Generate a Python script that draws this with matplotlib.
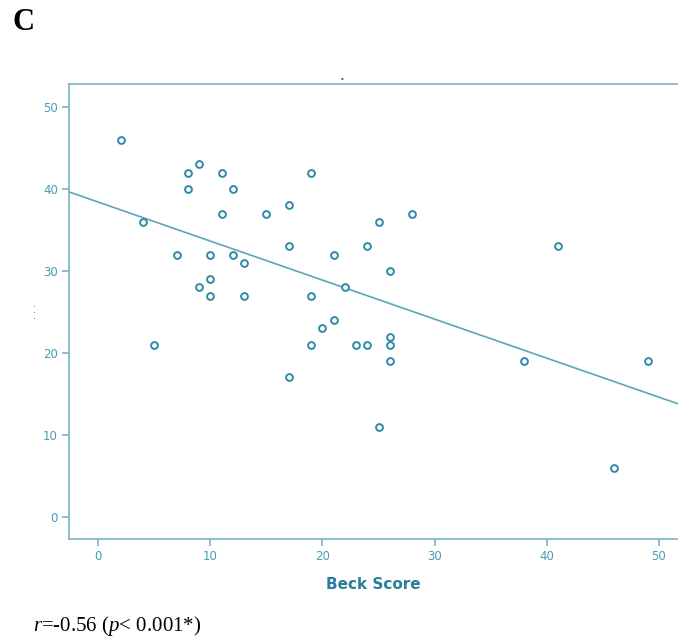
import matplotlib
matplotlib.use("Agg")
import matplotlib.pyplot as plt
import numpy as np

# Data
beck_score = [2, 4, 5, 7, 8, 8, 9, 9, 10, 10, 10, 11, 11, 12, 12, 13, 13, 15,
              17, 17, 17, 19, 19, 19, 20, 21, 21, 22, 23, 24, 24, 25, 25,
              26, 26, 26, 26, 28, 38, 41, 46, 49]
outcome = [46, 36, 21, 32, 42, 40, 43, 28, 32, 29, 27, 42, 37, 40, 32, 31, 27, 37,
           38, 33, 17, 42, 27, 21, 23, 32, 24, 28, 21, 33, 21, 36, 11,
           30, 22, 21, 19, 37, 19, 33, 6, 19]
line_intercept = 38.4
line_slope = -0.476
x_ticks = [0, 10, 20, 30, 40, 50]
y_ticks = [0, 10, 20, 30, 40, 50]

axis_col = "#7ab3c4"
label_col = "#4a9bb5"
mark_col = "#2f8aa8"
line_col = "#5da5b8"

plt.rcParams['mathtext.fontset'] = 'custom'
plt.rcParams['mathtext.rm'] = 'Liberation Serif'
plt.rcParams['mathtext.it'] = 'Liberation Serif:italic'

fig = plt.figure(figsize=(6.78, 6.39), dpi=100)
ax = fig.add_axes([69/678, 1-539/639, 1-69/678, (539-84)/639])

xmin, xmax = -2.6, 51.7
ax.set_xlim(xmin, xmax)
ax.set_ylim(-2.7, 52.8)

xs = np.array([xmin, xmax])
ax.plot(xs, line_intercept + line_slope * xs, color=line_col, lw=1.2, zorder=2)
ax.scatter(beck_score, outcome, s=24, facecolors="white", edgecolors=mark_col,
           linewidths=1.4, zorder=3)

for side in ["left", "top", "bottom"]:
    ax.spines[side].set_color(axis_col)
    ax.spines[side].set_linewidth(1.2)
ax.spines["right"].set_visible(False)

ax.set_xticks(x_ticks)
ax.set_yticks(y_ticks)
ax.tick_params(axis="both", colors=axis_col, length=5, width=1.2,
               labelsize=8.5, labelcolor=label_col, pad=3)

ax.set_xlabel("Beck Score", fontsize=11, fontweight="bold", color="#2b7d9c",
              labelpad=10)

# obscured y-axis label (vertical dots)
fig.text(33/678, 1-311/639, ". . .", fontsize=7, color="#2b7d9c",
         rotation=90, ha="center", va="center")

# small mark above the plot (title remnant)
fig.text(342/678, 1-78/639, "▪", fontsize=3, color="#2b7d9c", ha="center", va="center")

fig.text(12/678, 1-22/639, "C", fontsize=22, fontweight="bold",
         family="Liberation Serif", ha="left", va="center")
fig.text(33/678, 1-626/639, r"$\mathit{r}$=-0.56 ($\mathit{p}$< 0.001*)",
         fontsize=15, family="Liberation Serif", ha="left", va="center")

fig.savefig("out.png", dpi=100)
